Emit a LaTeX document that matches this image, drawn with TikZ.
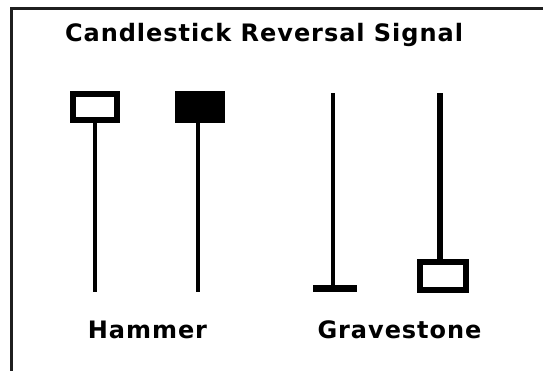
\documentclass[tikz,border=0pt]{standalone}
\usepackage{fontspec}
\setmainfont[LetterSpace=4]{DejaVu Sans}
\tikzset{
  body/.style={draw=black,line width=6pt,minimum width=44pt,minimum height=26pt,inner sep=0pt},
  wick/.style={line width=4pt},
  lbl/.style={anchor=base,inner sep=0pt,font=\bfseries\fontsize{24}{24}\selectfont}
}
\begin{document}
\begin{tikzpicture}[x=1pt,y=-1pt, line join=miter]
            \def\yb{291.7} \def\yt{93.3}
            \useasboundingbox (0,0) rectangle (543,371);
            \draw[line width=3pt,color=black!88] (11.3,371) -- (11.3,8.3) -- (543,8.3);
            \node[lbl] (title) at (264,41.5) {Candlestick Reversal Signal};
            % hammer
            \node[body,fill=white] (body1) at (95,107.2) {};
            \node[body,fill=black] (body2) at (199.5,107) {};
            \coordinate (low1) at (94.5,\yb);
            \coordinate (low2) at (198.3,\yb);
            \draw[wick] (low1 |- body1.south) -- (low1);
            \draw[wick] (low2 |- body2.south) -- (low2);
            \node[lbl] (hammer) at (147.5,338) {Hammer};
            % gravestone
            \node[fill=black,minimum width=44pt,minimum height=7pt,inner sep=0pt] (base3) at (334.7,288.5) {};
            \node[body,minimum width=45.7pt,minimum height=28pt,fill=white] (body4) at (443.2,276.3) {};
            \coordinate (top3) at (333,\yt);
            \coordinate (top4) at (439.7,\yt);
            \draw[wick] (top3) -- (top3 |- base3.north);
            \draw[wick,line width=6pt] (top4) -- (top4 |- body4.north);
            \node[lbl] (gravestone) at (399.5,338) {Gravestone};
        \end{tikzpicture}
\end{document}
